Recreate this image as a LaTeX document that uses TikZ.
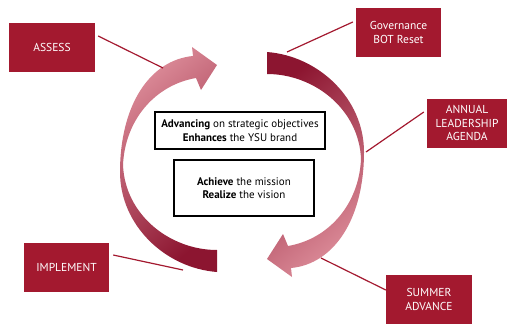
\documentclass[tikz,border=0pt]{standalone}
\usepackage{fontspec}
\setmainfont{PT Sans}
\definecolor{ysured}{HTML}{A3192F}
\definecolor{arrdark}{HTML}{8C1530}
\definecolor{arrlight}{HTML}{DC8C99}
\begin{document}
\begin{tikzpicture}[x=1pt,y=-1pt,
  redbox/.style={fill=ysured, text=white, minimum width=#1, minimum height=49,
    inner sep=0pt, align=center, font=\fontsize{11.5}{13.5}\selectfont},
  txtbox/.style={draw=black, line width=1.2pt, fill=white, inner sep=0pt, align=center,
    font=\fontsize{11}{13.5}\selectfont},
  link/.style={draw=ysured, line width=1.2pt}
]
\useasboundingbox (0,0) rectangle (508,324);

% curved arrows
\shade[top color=arrlight, bottom color=arrdark, shading angle=40]
  (217,250) .. controls (170,250) and (125,215) .. (123,165)
  .. controls (125,120) and (155,85) .. (196,78) -- (201,90) -- (217,65) -- (192,47) -- (193,56)
  .. controls (150,60) and (120,105) .. (120,172)
  .. controls (120,225) and (165,268) .. (217,272) -- cycle;
\shade[top color=arrdark, bottom color=arrlight, shading angle=40, rotate around={180:(242,162)}]
  (217,250) .. controls (170,250) and (125,215) .. (123,165)
  .. controls (125,120) and (155,85) .. (196,78) -- (201,90) -- (217,65) -- (192,47) -- (193,56)
  .. controls (150,60) and (120,105) .. (120,172)
  .. controls (120,225) and (165,268) .. (217,272) -- cycle;

% red boxes
\node[redbox=86] (assess) at (52,47) {ASSESS};
\node[redbox=85] (gov) at (398.5,32.5) {Governance\\BOT Reset};
\node[redbox=80] (annual) at (467,123) {ANNUAL\\LEADERSHIP\\AGENDA};
\node[redbox=85] (impl) at (66.5,267.5) {IMPLEMENT};
\node[redbox=86] (summer) at (429,299.5) {SUMMER\\ADVANCE};

% connector ends on arrows
\coordinate (assessend) at (163,68);
\coordinate (govend) at (287,52);
\coordinate (annualend) at (366,152);
\coordinate (implend) at (183,270);
\coordinate (summerend) at (321,258);

\draw[link] ([shift={(3,-11)}]assess.east) -- (assessend);
\draw[link] ([shift={(-3,-10.5)}]gov.west) -- (govend);
\draw[link] ([shift={(-3,-11)}]annual.west) -- (annualend);
\draw[link] ([shift={(4,-12.5)}]impl.east) -- (implend);
\draw[link] ([shift={(0,-9.5)}]summer.west) -- (summerend);

% central text boxes
\node[txtbox, minimum width=170, minimum height=37] (adv) at (240,130.5)
  {\textbf{Advancing} on strategic objectives\\\textbf{Enhances} the YSU brand};
\node[txtbox, minimum width=140, minimum height=56] (ach) at (244,188)
  {\textbf{Achieve} the mission\\\textbf{Realize} the vision};
\end{tikzpicture}
\end{document}
